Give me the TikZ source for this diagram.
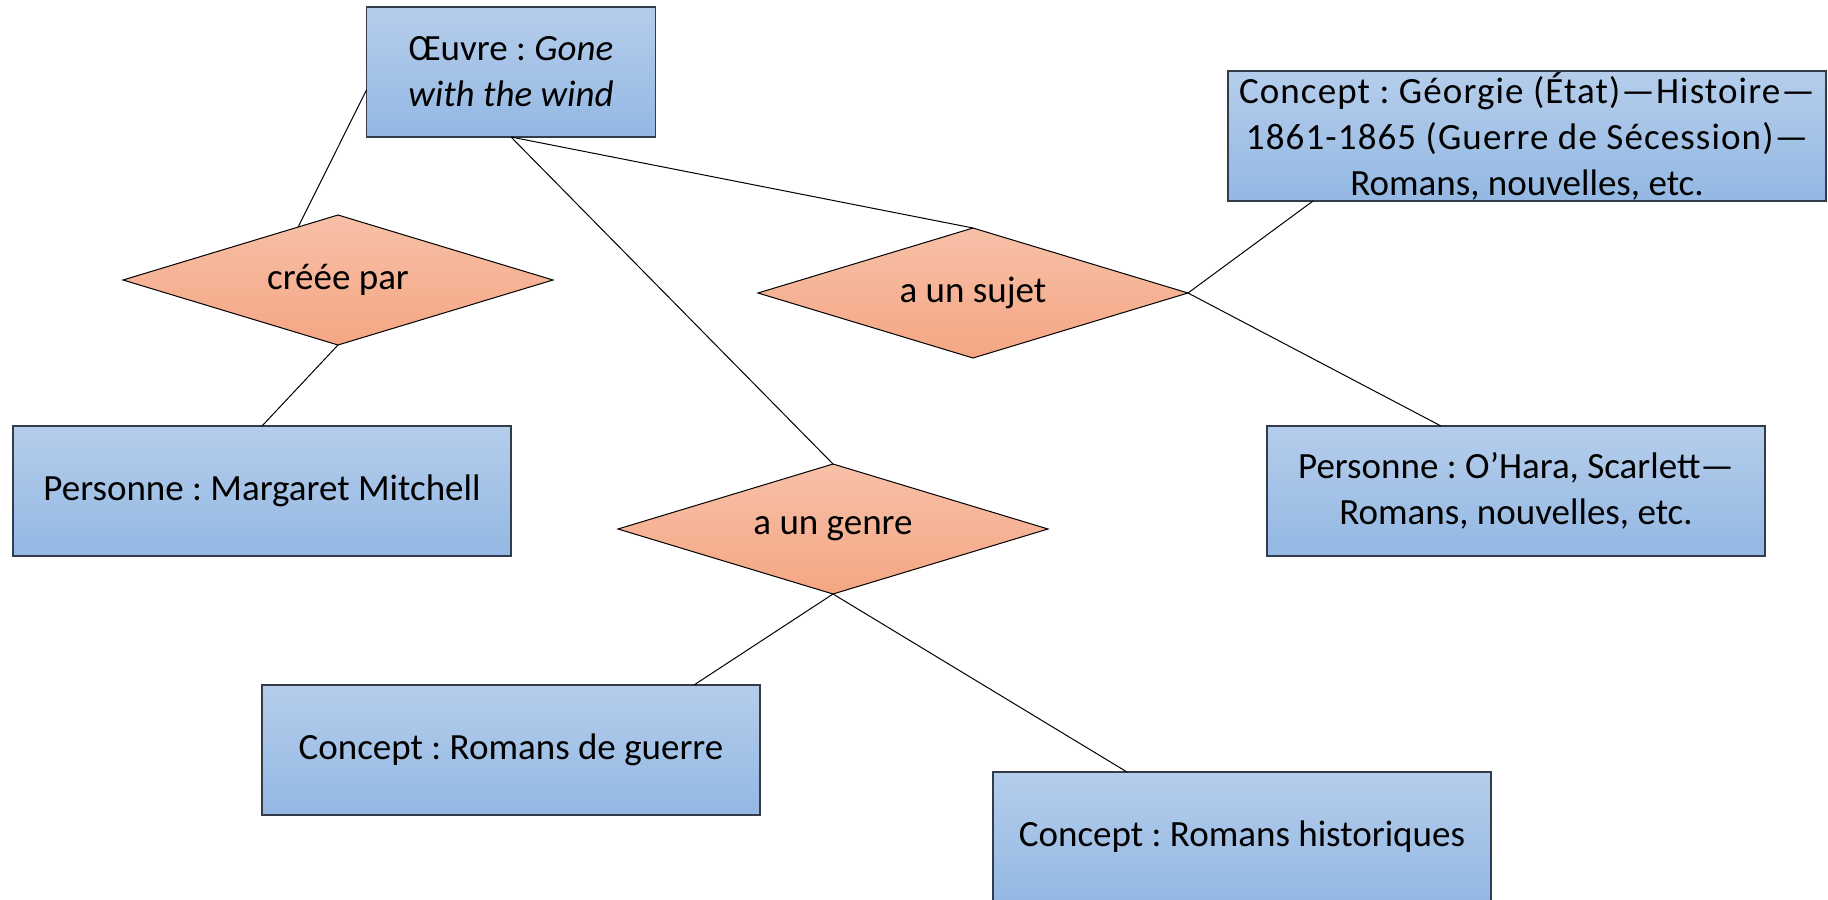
\documentclass[tikz,border=0pt]{standalone}
\usepackage{fontspec}
\setmainfont{Carlito}
\frenchspacing
\usetikzlibrary{shapes.geometric,calc}

\definecolor{boxtop}{RGB}{181,205,235}
\definecolor{boxbot}{RGB}{147,184,227}
\definecolor{boxline}{RGB}{50,60,75}
\definecolor{reltop}{RGB}{247,192,168}
\definecolor{relbot}{RGB}{245,166,131}

\tikzset{
  entity/.style={rectangle, draw=boxline, line width=0.6pt,
    top color=boxtop, bottom color=boxbot,
    minimum width=249pt, minimum height=65pt,
    inner sep=0pt, outer sep=0pt, align=center,
    font=\fontsize{18.5}{23}\selectfont},
  relation/.style={diamond, aspect=3.3, draw=black, line width=0.5pt,
    top color=reltop, bottom color=relbot,
    minimum width=215pt, minimum height=65pt,
    inner sep=0pt, outer sep=0pt,
    font=\fontsize{18.5}{23}\selectfont},
  link/.style={line width=0.5pt},
}

\begin{document}
\begin{tikzpicture}[x=0.5pt, y=-0.5pt]
  \fill[white] (0,0) rectangle (1828,900);
  \useasboundingbox (0,0) rectangle (1828,900);

  % the work and its relations
  \node[entity, minimum width=144.5pt] (oeuvre) at (511,72)
    {Œuvre : \textit{Gone}\\\textit{with the wind}};
  \node[relation] (creee) at (338,280) {créée par};
  \node[relation] (sujet) at (973,293) {a un sujet};
  \node[relation] (genre) at (833,529) {a un genre};

  % the targets
  \node[entity, minimum width=299pt] (georgie) at (1527,136)
    {{\addfontfeatures{LetterSpace=3}Concept : Géorgie (État)—Histoire—}\\
     {\addfontfeatures{LetterSpace=3}1861-1865 (Guerre de Sécession)—}\\
     Romans, nouvelles, etc.};
  \node[entity] (mitchell) at (262,491) {Personne : Margaret Mitchell};
  \node[entity] (ohara) at (1516,491)
    {Personne : O’Hara, Scarlett—\\Romans, nouvelles, etc.};
  \node[entity] (guerre) at (511,750) {Concept : Romans de guerre};
  \node[entity] (histo) at (1242,837) {Concept : Romans historiques};

  % links
  \draw[link] ($(oeuvre.west)+(0,18)$) -- (creee.127);
  \draw[link] (creee.south) -- (mitchell.north);
  \draw[link] (oeuvre.south) -- (sujet.north);
  \draw[link] (oeuvre.south) -- (genre.north);
  \draw[link] (sujet.east) -- ($(georgie.south)+(-214,0)$);
  \draw[link] (sujet.east) -- ($(ohara.north)+(-75,0)$);
  \draw[link] (genre.south) -- ($(guerre.north)+(183,0)$);
  \draw[link] (genre.south) -- ($(histo.north)+(-115,0)$);
\end{tikzpicture}
\end{document}
